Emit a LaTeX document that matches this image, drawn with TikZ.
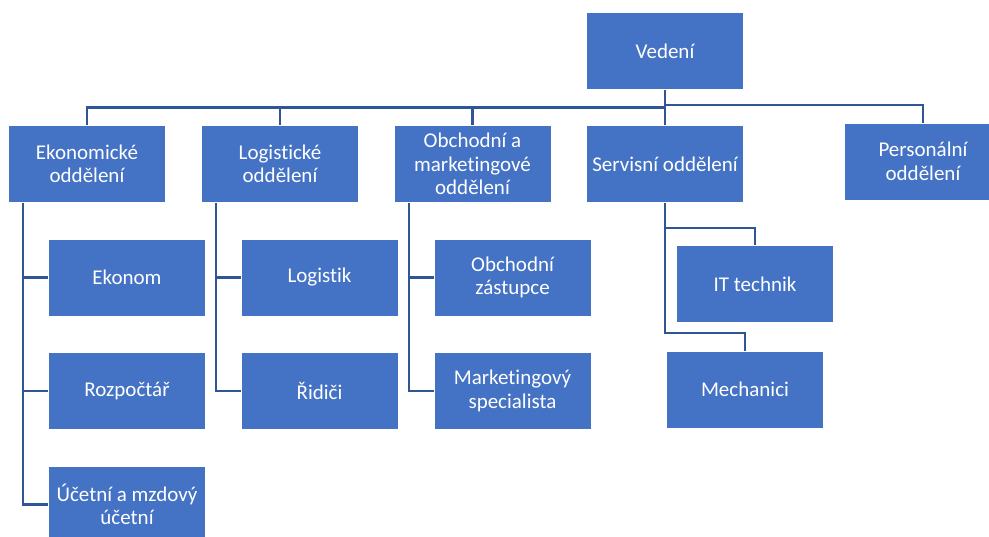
\documentclass[tikz,border=0pt]{standalone}
\usepackage{fontspec}
\setmainfont{Carlito}[Ligatures={NoCommon}]
\definecolor{boxfill}{HTML}{4472C4}
\definecolor{linecol}{HTML}{2F5597}
\begin{document}
\begin{tikzpicture}[x=1pt,y=-1pt,
  box/.style={rectangle, fill=boxfill, draw=white, line width=0.8pt,
    minimum width=157pt, minimum height=77pt, inner sep=2pt,
    text=white, align=center, font=\fontsize{21}{23.5}\selectfont},
  conn/.style={draw=linecol, line width=2.6pt}]
\useasboundingbox (0,0) rectangle (989,537);
% level 0
\node[box] (ved) at (665,51) {Vedení};
% level 1
\node[box] (eko) at (87,164) {Ekonomické\\oddělení};
\node[box] (log) at (280,164) {Logistické\\oddělení};
\node[box] (obch) at (472.5,164) {Obchodní a\\marketingové\\oddělení};
\node[box] (serv) at (665,164) {Servisní oddělení};
\node[box] (pers) at (923,161.5) {Personální\\oddělení};
% level 2
\node[box] (ekonom) at (127,277.5) {Ekonom};
\node[box] (rozp) at (127,391) {Rozpočtář};
\node[box] (ucet) at (127,504.5) {Účetní a mzdový\\účetní};
\node[box] (logistik) at (319.5,277.5) {Logistik};
\node[box] (ridici) at (319.5,391) {Řidiči};
\node[box] (obchz) at (512.5,277.5) {Obchodní\\zástupce};
\node[box] (mark) at (512.5,391) {Marketingový\\specialista};
\node[box] (it) at (755,284) {IT technik};
\node[box] (mech) at (745,389.5) {Mechanici};
% coordinates
\coordinate (busL) at (665,107.5);
\coordinate (busR) at (665,105);
\coordinate (eT) at (23,202);
\coordinate (lT) at (216,202);
\coordinate (oT) at (409,202);
\coordinate (sIT) at (665,228);
\coordinate (sMe) at (665,333);
% level 0 -> level 1
\draw[conn] (ved.south) -- (serv.north);
\draw[conn] (eko.north) |- (busL);
\draw[conn] (log.north) -- (log.north |- busL);
\draw[conn] (obch.north) -- (obch.north |- busL);
\draw[conn] (busR) -| (pers.north);
% Ekonomické
\draw[conn] (eko.south -| eT) |- (ucet.west);
\draw[conn] (ekonom.west) -- (ekonom.west -| eT);
\draw[conn] (rozp.west) -- (rozp.west -| eT);
% Logistické
\draw[conn] (log.south -| lT) |- (ridici.west);
\draw[conn] (logistik.west) -- (logistik.west -| lT);
% Obchodní
\draw[conn] (obch.south -| oT) |- (mark.west);
\draw[conn] (obchz.west) -- (obchz.west -| oT);
% Servisní
\draw[conn] (serv.south) -- (sMe) -| (mech.north);
\draw[conn] (sIT) -| (it.north);
\end{tikzpicture}
\end{document}
